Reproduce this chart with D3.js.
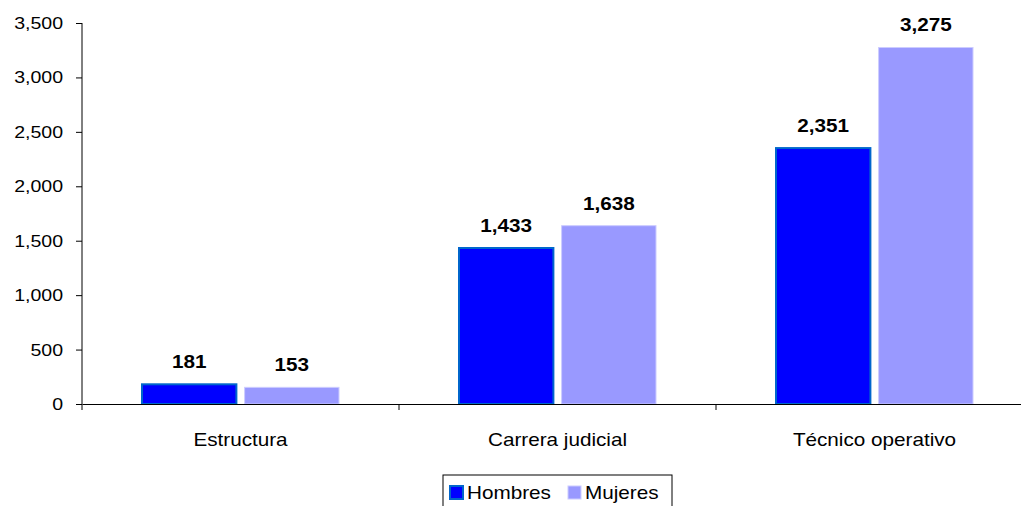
<!DOCTYPE html>
<html>
<head>
<meta charset="utf-8">
<script src="https://cdn.jsdelivr.net/npm/d3@7"></script>
<style>
  body { margin: 0; background: #fff; }
  svg { display: block; font-family: "Liberation Sans", Arial, sans-serif; }
</style>
</head>
<body>
<div id="chart"></div>
<script>
var categorias = ["Estructura", "Carrera judicial", "Técnico operativo"];
var series = ["Hombres", "Mujeres"];
var hombres = [181, 1433, 2351];
var mujeres = [153, 1638, 3275];
var yTicks = [0, 500, 1000, 1500, 2000, 2500, 3000, 3500];

var colores = {Hombres: "#0000ff", Mujeres: "#9999ff"};
var bordes = {Hombres: "#0066cc", Mujeres: "#ccccff"};

var W = 1021, H = 506;
var margin = {top: 23, left: 82, bottom: 102};
var stretch = 1.15; // texts look a bit wide in the reference

var svg = d3.select("#chart").append("svg")
    .attr("width", W)
    .attr("height", H);

var x = d3.scaleBand().domain(categorias).range([margin.left, margin.left + 3 * 317]);
var x1 = d3.scaleBand().domain(series).range([60, 257]).paddingInner(0.08);
var y = d3.scaleLinear().domain([0, 3500]).range([H - margin.bottom, margin.top]);

function wideText(sel, px, py) {
  return sel.attr("transform", function(d, i) {
    return "translate(" + px(d, i) + "," + py(d, i) + ") scale(" + stretch + ",1)";
  });
}

// y axis
var yAxis = svg.append("g")
    .attr("transform", "translate(" + margin.left + ",0)")
    .call(d3.axisLeft(y).tickValues(yTicks).tickSize(6).tickFormat(d3.format(",")));
yAxis.select(".domain").attr("stroke", "#000").attr("d", "M0," + y(3500) + "V" + y(0));
yAxis.selectAll(".tick line").attr("stroke", "#000");
yAxis.selectAll(".tick text").remove();

svg.selectAll(".ylab")
  .data(yTicks)
  .enter().append("text")
    .attr("class", "ylab")
    .call(wideText, function() { return 63; }, function(d) { return y(d) + 6; })
    .attr("text-anchor", "end")
    .style("font-size", "17px")
    .text(function(d) { return d3.format(",")(d); });

// bars
var datos = [];
categorias.forEach(function(c, i) {
  datos.push({cat: c, serie: "Hombres", valor: hombres[i]});
  datos.push({cat: c, serie: "Mujeres", valor: mujeres[i]});
});

svg.selectAll(".bar")
  .data(datos)
  .enter().append("rect")
    .attr("class", "bar")
    .attr("x", function(d) { return x(d.cat) + x1(d.serie); })
    .attr("y", function(d) { return y(d.valor); })
    .attr("width", x1.bandwidth())
    .attr("height", function(d) { return y(0) - y(d.valor); })
    .attr("fill", function(d) { return colores[d.serie]; })
    .attr("stroke", function(d) { return bordes[d.serie]; })
    .attr("stroke-width", function(d) { return d.serie === "Hombres" ? 2 : 1; });

svg.selectAll(".val")
  .data(datos)
  .enter().append("text")
    .attr("class", "val")
    .call(wideText, function(d) { return x(d.cat) + x1(d.serie) + x1.bandwidth() / 2; },
                    function(d) { return y(d.valor) - 16; })
    .attr("text-anchor", "middle")
    .style("font-size", "18px")
    .style("font-weight", "bold")
    .text(function(d) { return d3.format(",")(d.valor); });

// x axis
var xAxis = svg.append("g")
    .attr("transform", "translate(0," + y(0) + ")")
    .call(d3.axisBottom(x).tickSize(0).tickFormat(""));
xAxis.select(".domain").attr("stroke", "#000");
xAxis.selectAll(".tick").remove();
xAxis.selectAll(".sep")
  .data(categorias.concat(["fin"]))
  .enter().append("line")
    .attr("class", "sep")
    .attr("x1", function(d, i) { return margin.left + i * x.step(); })
    .attr("x2", function(d, i) { return margin.left + i * x.step(); })
    .attr("y1", 0).attr("y2", 6)
    .attr("stroke", "#000");

svg.selectAll(".cat")
  .data(categorias)
  .enter().append("text")
    .attr("class", "cat")
    .call(wideText, function(d) { return x(d) + x.bandwidth() / 2; }, function() { return 446; })
    .attr("text-anchor", "middle")
    .style("font-size", "18px")
    .text(function(d) { return d; });

// legend
var legend = svg.append("g").attr("transform", "translate(443,475)");
legend.append("rect")
    .attr("x", 0).attr("y", 0)
    .attr("width", 229).attr("height", 40)
    .attr("fill", "#fff").attr("stroke", "#000");

var items = legend.selectAll(".item")
  .data(series)
  .enter().append("g")
    .attr("class", "item")
    .attr("transform", function(d, i) { return "translate(" + (7 + i * 118) + ",11)"; });

items.append("rect")
    .attr("width", 13).attr("height", 13)
    .attr("fill", function(d) { return colores[d]; })
    .attr("stroke", function(d) { return bordes[d]; })
    .attr("stroke-width", function(d) { return d === "Hombres" ? 2 : 1; });

items.append("text")
    .call(wideText, function() { return 17; }, function() { return 13; })
    .style("font-size", "18px")
    .text(function(d) { return d; });
</script>
</body>
</html>
